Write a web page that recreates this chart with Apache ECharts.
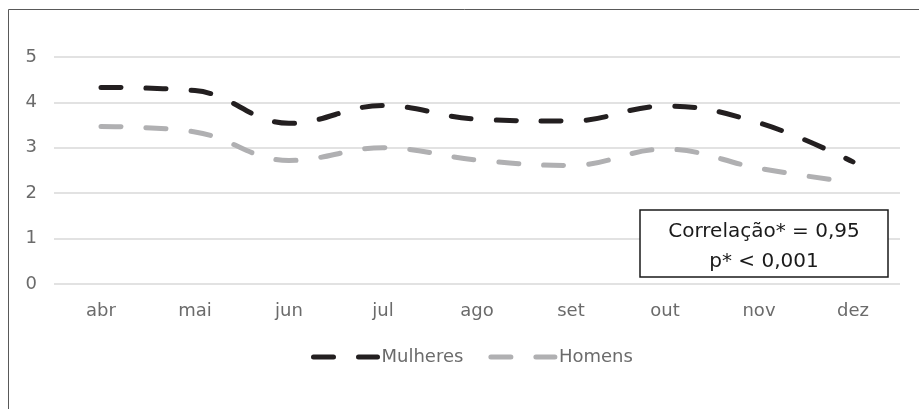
<!DOCTYPE html>
<html>
<head>
<meta charset="utf-8">
<script src="https://cdn.jsdelivr.net/npm/echarts@6/dist/echarts.min.js"></script>
<style>
  html, body { margin: 0; padding: 0; background: #fff; }
  #chart { width: 919px; height: 409px; }
</style>
</head>
<body>
<div id="chart"></div>
<script>
const months = ['abr', 'mai', 'jun', 'jul', 'ago', 'set', 'out', 'nov', 'dez']
const mulheres = [4.33, 4.26, 3.54, 3.93, 3.63, 3.59, 3.92, 3.55, 2.69]
const homens = [3.47, 3.35, 2.72, 3.0, 2.73, 2.61, 2.97, 2.55, 2.23]
const yTicks = { min: 0, max: 5, interval: 1 }
const noteLines = ['Correlação* = 0,95', 'p* < 0,001']

const FONT = 'DejaVu Sans'
const DASH = [20, 25]
const chart = echarts.init(document.getElementById('chart'))

function lineSeries(name, data, color) {
  return {
    name, type: 'line', data, smooth: 0.4,
    symbol: 'none', showSymbol: false,
    lineStyle: { color, width: 5, type: DASH, cap: 'round' },
    itemStyle: { color },
  }
}

chart.setOption({
  animation: false,
  backgroundColor: '#fff',
  textStyle: { fontFamily: FONT },
  grid: { left: 54, right: 19, top: 57, bottom: 125 },
  legend: {
    bottom: 38, left: 306,
    itemWidth: 64, itemHeight: 10, itemGap: 25,
    data: ['Mulheres', 'Homens'],
    itemStyle: { opacity: 0 },
    lineStyle: { width: 5, type: DASH, cap: 'round' },
    textStyle: { color: '#6b6b6b', fontSize: 18, fontFamily: FONT, padding: [0, 0, 0, -1] },
  },
  xAxis: {
    type: 'category', data: months, boundaryGap: true,
    axisLine: { show: false }, axisTick: { show: false },
    axisLabel: { color: '#6b6b6b', fontSize: 18, margin: 18 },
  },
  yAxis: {
    type: 'value', min: yTicks.min, max: yTicks.max, interval: yTicks.interval,
    axisLine: { show: false }, axisTick: { show: false },
    axisLabel: { color: '#6b6b6b', fontSize: 18, margin: 17 },
    splitLine: { lineStyle: { color: '#d9d9d9', width: 1.5 } },
  },
  series: [
    lineSeries('Mulheres', mulheres, '#231f20'),
    lineSeries('Homens', homens, '#b0b0b2'),
  ],
  graphic: [
    { type: 'rect', silent: true, z: 100,
      shape: { x: 8.5, y: 9.5, width: 1000, height: 1000 },
      style: { fill: 'none', stroke: '#595959', lineWidth: 1 } },
    { type: 'rect', silent: true, z: 100,
      shape: { x: 640, y: 210, width: 248, height: 67 },
      style: { fill: '#fff', stroke: '#1a1a1a', lineWidth: 1.5 } },
    { type: 'text', silent: true, z: 101, x: 764, y: 247,
      style: { text: noteLines.join('\n'), fill: '#1a1a1a', font: '20px "' + FONT + '"',
               align: 'center', verticalAlign: 'middle', lineHeight: 30 } },
  ],
})
</script>
</body>
</html>
